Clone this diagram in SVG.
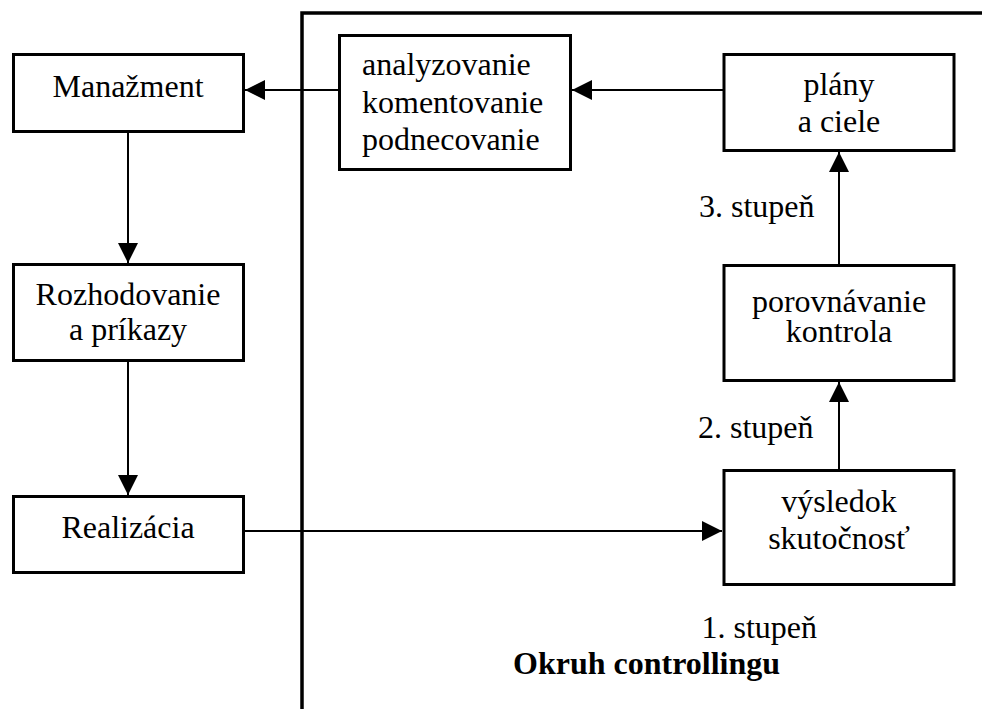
<svg xmlns="http://www.w3.org/2000/svg" width="982" height="709" viewBox="0 0 982 709">
<style>
  .box { fill: #ffffff; stroke: #000000; stroke-width: 3; }
  .frame { fill: none; stroke: #000000; stroke-width: 3.5; }
  .conn { fill: none; stroke: #000000; stroke-width: 2; }
  .arr { marker-end: url(#ah); }
  text { font-family: 'Liberation Serif', 'Times New Roman', Tinos, 'DejaVu Serif', serif; font-size: 32px; fill: #000000; }
  .c { text-anchor: middle; }
  .b { font-weight: bold; }
</style>
<defs>
  <marker id="ah" markerUnits="userSpaceOnUse" markerWidth="20" markerHeight="20" viewBox="0 0 20 20" refX="20" refY="10" orient="auto">
    <path d="M0,0 L20,10 L0,20 Z" fill="#000000"/>
  </marker>
</defs>
<rect width="982" height="709" fill="#ffffff"/>

<g id="frame">
  <path class="frame" d="M302,709 L302,13 L982,13"/>
</g>

<g id="connectors">
  <line class="conn arr" x1="339" y1="90" x2="245" y2="90"/>
  <line class="conn arr" x1="724" y1="90" x2="572" y2="90"/>
  <line class="conn arr" x1="128" y1="133" x2="128" y2="263"/>
  <line class="conn arr" x1="128" y1="362" x2="128" y2="495"/>
  <line class="conn arr" x1="245" y1="531" x2="722" y2="531"/>
  <line class="conn arr" x1="839" y1="469" x2="839" y2="382"/>
  <line class="conn arr" x1="839" y1="264" x2="839" y2="152"/>
</g>

<g id="manazment">
  <rect class="box" x="13.5" y="54.5" width="230" height="77"/>
  <text class="c" x="128" y="97" font-family="Liberation Serif, serif">Manažment</text>
</g>
<g id="rozhodovanie">
  <rect class="box" x="13.5" y="264.5" width="230" height="96"/>
  <text class="c" x="128" y="305">Rozhodovanie</text>
  <text class="c" x="128" y="340">a príkazy</text>
</g>
<g id="realizacia">
  <rect class="box" x="13.5" y="496.5" width="230" height="76"/>
  <text class="c" x="128" y="538">Realizácia</text>
</g>
<g id="analyzovanie">
  <rect class="box" x="339.5" y="35.5" width="231" height="134"/>
  <text x="362" y="75">analyzovanie</text>
  <text x="362" y="112.5">komentovanie</text>
  <text x="362" y="149.5">podnecovanie</text>
</g>
<g id="plany">
  <rect class="box" x="724" y="54.5" width="230" height="96"/>
  <text class="c" x="839" y="95">plány</text>
  <text class="c" x="839" y="131.5">a ciele</text>
</g>
<g id="porovnavanie">
  <rect class="box" x="724" y="265.5" width="230" height="115"/>
  <text class="c" x="839" y="311.5">porovnávanie</text>
  <text class="c" x="839" y="341.5">kontrola</text>
</g>
<g id="vysledok">
  <rect class="box" x="724" y="470.5" width="230" height="114"/>
  <text class="c" x="839" y="511.5">výsledok</text>
  <text class="c" x="839" y="549">skutočnosť</text>
</g>

<g id="labels">
  <text x="699" y="216.5">3. stupeň</text>
  <text x="698" y="438">2. stupeň</text>
  <text x="701.5" y="638">1. stupeň</text>
  <text class="b" x="513" y="674">Okruh controllingu</text>
</g>
</svg>
